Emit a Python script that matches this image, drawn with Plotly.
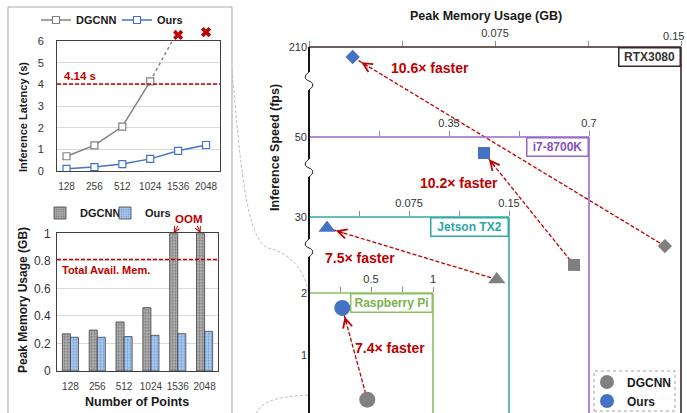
import plotly.graph_objects as go

W, H = 687, 413
FONT = "Liberation Sans, Arial, sans-serif"
RED = "#c00000"
GREY = "#808080"
BLUE = "#4472c4"

# ---------------- data ----------------
points = ["128", "256", "512", "1024", "1536", "2048"]
latency_dgcnn = [0.68, 1.18, 2.05, 4.14]          # 128 .. 1024
latency_dgcnn_trend = [4.14, 6.5]                 # dotted trend 1024 -> 1536 (runs off the top)
latency_ours = [0.10, 0.18, 0.32, 0.56, 0.93, 1.20]
oom_points = ["1536", "2048"]
oom_marks = [6.28, 6.41]
latency_limit = 4.02
latency_limit_label = "4.14 s"

mem_dgcnn = [0.27, 0.297, 0.356, 0.46, 1.0, 1.0]
mem_ours = [0.245, 0.245, 0.25, 0.259, 0.271, 0.288]
mem_total = 0.81

devices = ["RTX3080", "i7-8700K", "Jetson TX2", "Raspberry Pi"]
dev_mem_dgcnn = [0.1435, 0.6625, 0.1408, 0.470]
dev_mem_ours = [0.0176, 0.4375, 0.0135, 0.2685]
dev_fps_dgcnn = [18.9, 4.34, 3.375, 0.28]
dev_fps_ours = [200.4, 44.29, 25.31, 1.76]
speedup_labels = ["10.6× faster", "10.2× faster", "7.5× faster", "7.4× faster"]
dev_mem_ticks = [[0, 0.0375, 0.075, 0.1125, 0.15],
                 [0, 0.175, 0.35, 0.525, 0.7],
                 [0, 0.0375, 0.075, 0.1125, 0.15],
                 [0, 0.25, 0.5, 0.75, 1.0]]
dev_mem_ticktext = [["", "", "0.075", "", ""],      # RTX "0.15" drawn separately at the edge
                    ["", "", "0.35", "", "0.7"],
                    ["", "", "0.075", "", "0.15"],
                    ["", "", "0.5", "", "1"]]
rtx_edge_label = "0.15"
dev_fps_ticks = [[210], [50], [30], [1, 2]]

# ---------------- styles / layout ----------------
dev_mem_range = [[0, 0.15], [0, 0.7], [0, 0.15], [0, 1.0]]
dev_fps_range = [[-141.4, 210], [-48.5, 50], [-53.6, 30], [0.0645, 2]]
dev_right_px = [681, 589, 509, 433]
dev_top_px = [47, 137, 217, 293]
dev_line_color = ["#3d2828", "#9a66c8", "#33aaaa", "#8cc063"]
dev_text_color = ["#333333", "#8552bd", "#2ea6a4", "#79b24c"]
dev_label_width = [56, 56, 72, 76]
dev_symbol = ["diamond", "square", "triangle-up", "circle"]
dev_size = [11, 12, 15, 16]
arrow_frac = [0.07, 0.17, 0.14, 0.26]
arrow_standoff = [10, 8, 9, 9]
speed_text_px = [(430, 68), (459, 183), (360, 258), (390, 348)]
AXIS_X0 = 309
LAT_TOP_PX, LAT_BOT_PX = 41, 171
OOM_TOP_PX = 28


def PX(x):
    return x / W


def PY(y):
    return 1 - y / H


fig = go.Figure()

# ---- top-left: latency lines ----
fig.add_trace(go.Scatter(x=points, y=latency_ours, mode="lines+markers",
                         name="Ours", line=dict(color=BLUE, width=1.5),
                         marker=dict(symbol="square", size=7, color="white",
                                     line=dict(color=BLUE, width=1.2)),
                         xaxis="x", yaxis="y", legend="legend4"))
fig.add_trace(go.Scatter(x=points[3:5], y=latency_dgcnn_trend, mode="lines",
                         line=dict(color=GREY, width=1.5, dash="dot"),
                         showlegend=False, xaxis="x", yaxis="y", hoverinfo="skip"))
fig.add_trace(go.Scatter(x=points[:len(latency_dgcnn)], y=latency_dgcnn, mode="lines+markers",
                         name="DGCNN", line=dict(color=GREY, width=1.5),
                         marker=dict(symbol="square", size=7, color="white",
                                     line=dict(color=GREY, width=1.2)),
                         xaxis="x", yaxis="y", legend="legend"))
# OOM crosses sit just above the latency axis: same scale, axis extended upward
fig.add_trace(go.Scatter(x=oom_points, y=oom_marks, mode="markers",
                         marker=dict(symbol="x", size=9, color=RED),
                         cliponaxis=False, showlegend=False, xaxis="x", yaxis="y7"))

# ---- bottom-left: memory bars ----
fig.add_trace(go.Bar(x=points, y=mem_dgcnn, name="DGCNN", xaxis="x2", yaxis="y2",
                     legend="legend2", offsetgroup="a",
                     marker=dict(color="#b0b0b0", line=dict(color="#404040", width=0.8),
                                 pattern=dict(shape=".", fgcolor="#404040", size=3, solidity=0.35))))
fig.add_trace(go.Bar(x=points, y=mem_ours, name="Ours", xaxis="x2", yaxis="y2",
                     legend="legend5", offsetgroup="b",
                     marker=dict(color="#a9c8ee", line=dict(color="#404040", width=0.8),
                                 pattern=dict(shape=".", fgcolor="#3b6fc4", size=3, solidity=0.3))))

# ---- right: devices ----
for i in range(4):
    xa, ya = "x%d" % (i + 3), "y%d" % (i + 3)
    fig.add_trace(go.Scatter(x=[dev_mem_dgcnn[i], dev_mem_ours[i]],
                             y=[dev_fps_dgcnn[i], dev_fps_ours[i]], mode="lines",
                             line=dict(color=RED, width=1.3, dash="4px,2px"),
                             showlegend=False, xaxis=xa, yaxis=ya, hoverinfo="skip"))
    fig.add_trace(go.Scatter(x=[dev_mem_dgcnn[i]], y=[dev_fps_dgcnn[i]], mode="markers",
                             marker=dict(symbol=dev_symbol[i], size=dev_size[i], color=GREY),
                             cliponaxis=False, showlegend=False, xaxis=xa, yaxis=ya))
    fig.add_trace(go.Scatter(x=[dev_mem_ours[i]], y=[dev_fps_ours[i]], mode="markers",
                             marker=dict(symbol=dev_symbol[i], size=dev_size[i], color=BLUE),
                             cliponaxis=False, showlegend=False, xaxis=xa, yaxis=ya))

# legend entries for the right panel
fig.add_trace(go.Scatter(x=[None], y=[None], mode="markers", name="DGCNN",
                         marker=dict(symbol="circle", size=14, color=GREY),
                         xaxis="x3", yaxis="y3", legend="legend3"))
fig.add_trace(go.Scatter(x=[None], y=[None], mode="markers", name="Ours",
                         marker=dict(symbol="circle", size=14, color=BLUE),
                         xaxis="x3", yaxis="y3", legend="legend6"))

axes = {}
axes["xaxis"] = dict(domain=[PX(57), PX(220)], anchor="y", type="category",
                     categoryorder="array", categoryarray=points,
                     range=[-0.34, 5.5], showline=True, mirror=True, linecolor="#404040",
                     ticks="", showgrid=False, tickfont=dict(size=10, color="#404040"),
                     ticklabelstandoff=6, automargin=False)
axes["yaxis"] = dict(domain=[PY(LAT_BOT_PX), PY(LAT_TOP_PX)], anchor="x", range=[0, 6], dtick=1,
                     showline=True, mirror=True, linecolor="#404040", ticks="",
                     showgrid=True, gridcolor="#d9d9d9", zeroline=False,
                     tickfont=dict(size=11, color="#333333"), ticklabelstandoff=10,
                     automargin=False)
axes["yaxis7"] = dict(domain=[PY(LAT_BOT_PX), PY(OOM_TOP_PX)], anchor="x",
                      range=[0, 6 * (LAT_BOT_PX - OOM_TOP_PX) / (LAT_BOT_PX - LAT_TOP_PX)],
                      visible=False, automargin=False)
axes["xaxis2"] = dict(domain=[PX(57), PX(218)], anchor="y2", type="category",
                      categoryorder="array", categoryarray=points, range=[-0.5, 5.5],
                      showline=True, mirror=True, linecolor="#404040",
                      ticks="", showgrid=False, tickfont=dict(size=10, color="#404040"),
                      ticklabelstandoff=6, automargin=False)
axes["yaxis2"] = dict(domain=[PY(371), PY(233.3)], anchor="x2", range=[0, 1],
                      tickvals=[0, 0.2, 0.4, 0.6, 0.8, 1], ticktext=["0", "0.2", "0.4", "0.6", "0.8", "1"],
                      showline=True, mirror=True, linecolor="#404040", ticks="",
                      showgrid=True, gridcolor="#d9d9d9", zeroline=False,
                      tickfont=dict(size=12, color="#333333"), ticklabelstandoff=3,
                      automargin=False)
for i in range(4):
    n = i + 3
    axes["xaxis%d" % n] = dict(domain=[PX(AXIS_X0), PX(dev_right_px[i])], anchor="y%d" % n,
                               side="top", range=dev_mem_range[i], tickvals=dev_mem_ticks[i],
                               ticktext=dev_mem_ticktext[i], ticks="outside", ticklen=5,
                               tickcolor="#8c8c8c", showline=False, showgrid=False,
                               zeroline=False, tickfont=dict(size=11, color="#333333"),
                               automargin=False, ticklabeloverflow="allow")
    axes["yaxis%d" % n] = dict(domain=[0, PY(dev_top_px[i])], anchor="free",
                               position=PX(AXIS_X0),
                               range=dev_fps_range[i], tickvals=dev_fps_ticks[i],
                               ticks="", showline=False, showgrid=False, zeroline=False,
                               tickfont=dict(size=11, color="#333333"), ticklabelstandoff=2,
                               automargin=False)

shapes = []
# left panel frame
shapes.append(dict(type="rect", xref="paper", yref="paper", x0=PX(8), x1=PX(232),
                   y0=PY(420), y1=PY(7), line=dict(color="#a6a6a6", width=1), layer="below"))
# limit lines
shapes.append(dict(type="line", xref="x domain", yref="y", x0=0, x1=1, y0=latency_limit,
                   y1=latency_limit, line=dict(color=RED, width=1.5, dash="4px,2px")))
shapes.append(dict(type="line", xref="x2 domain", yref="y2", x0=0, x1=1, y0=mem_total,
                   y1=mem_total, line=dict(color=RED, width=1.5, dash="4px,2px")))
# device boxes
for i in range(4):
    n = i + 3
    shapes.append(dict(type="line", xref="x%d domain" % n, yref="y%d domain" % n,
                       x0=0, x1=1, y0=1, y1=1, line=dict(color=dev_line_color[i], width=1.6)))
    shapes.append(dict(type="line", xref="x%d domain" % n, yref="y%d domain" % n,
                       x0=1, x1=1, y0=0, y1=1, line=dict(color=dev_line_color[i], width=1.6)))

# broken vertical axis
breaks = [(72, 90), (159, 177), (239, 257)]
segs = [(47, breaks[0][0])] + [(breaks[k][1], breaks[k + 1][0]) for k in range(2)] + [(breaks[2][1], 415)]
for a, b in segs:
    shapes.append(dict(type="line", xref="paper", yref="paper", x0=PX(AXIS_X0), x1=PX(AXIS_X0),
                       y0=PY(a), y1=PY(b), line=dict(color="#141414", width=2)))


def path(cmds):
    out = []
    for c in cmds:
        if isinstance(c, str):
            out.append(c)
        else:
            out.append("%.5f,%.5f" % (PX(c[0]), PY(c[1])))
    return " ".join(out)


for a, b in breaks:
    h = b - a
    shapes.append(dict(type="path", xref="paper", yref="paper",
                       path=path(["M", (AXIS_X0, a), "C", (AXIS_X0 - 5, a + h * 0.2),
                                  (AXIS_X0 - 5, a + h * 0.4), (AXIS_X0, a + h * 0.5),
                                  "C", (AXIS_X0 + 5, a + h * 0.6), (AXIS_X0 + 5, a + h * 0.8),
                                  (AXIS_X0, b)]),
                       line=dict(color="#141414", width=1)))

# zoom connector curves
shapes.append(dict(type="path", xref="paper", yref="paper",
                   path=path(["M", (232, 70), "C", (240, 160), (246, 240), (268, 248),
                              "C", (292, 254), (305, 270), (309, 296)]),
                   line=dict(color="#bdbdbd", width=1, dash="3px,2px"), layer="below"))
shapes.append(dict(type="path", xref="paper", yref="paper",
                   path=path(["M", (256, 414), "C", (262, 402), (272, 397), (309, 395)]),
                   line=dict(color="#bdbdbd", width=1, dash="3px,2px"), layer="below"))
# right legend frame
shapes.append(dict(type="rect", xref="paper", yref="paper", x0=PX(594), x1=PX(675),
                   y0=PY(411), y1=PY(371), line=dict(color="#a0a0a0", width=1, dash="dot")))

ann = []


def txt(x, y, text, size=12, color="#1a1a1a", angle=0, xanchor="center", bold=True):
    ann.append(dict(xref="paper", yref="paper", x=PX(x), y=PY(y), text=("<b>%s</b>" % text) if bold else text,
                    showarrow=False, textangle=angle, xanchor=xanchor, yanchor="middle",
                    font=dict(size=size, color=color, family=FONT)))


txt(23, 117, "Inference Latency (s)", size=11, angle=-90)
txt(23, 300, "Peak Memory Usage (GB)", size=12, angle=-90)
txt(137, 402, "Number of Points", size=12.5)
txt(486, 16, "Peak Memory Usage (GB)", size=12.5)
txt(275, 148, "Inference Speed (fps)", size=12.5, angle=-90)
txt(62, 76, latency_limit_label, size=11.5, color=RED, xanchor="left")
txt(60, 270, "Total Avail. Mem.", size=11, color=RED, xanchor="left")
txt(188, 219, "OOM", size=11.5, color=RED)
txt(686, 36, rtx_edge_label, size=11, color="#333333", xanchor="right", bold=False)
for k, dx in [(4, 5), (5, -4)]:
    ann.append(dict(xref="x2", yref="y2", x=k - 0.15, y=1.0, text="", showarrow=True,
                    ax=dx, ay=-9, arrowhead=5, arrowsize=1.1, arrowwidth=1, arrowcolor=RED))

for i in range(4):
    n = i + 3
    ann.append(dict(xref="x%d domain" % n, yref="y%d domain" % n, x=1, y=1,
                    xanchor="right", yanchor="top", showarrow=False,
                    text="<b>%s</b>" % devices[i], width=dev_label_width[i], height=13,
                    bgcolor="white", bordercolor=dev_line_color[i], borderwidth=1.5, borderpad=2,
                    font=dict(size=12, color=dev_text_color[i], family=FONT)))
    txt(speed_text_px[i][0], speed_text_px[i][1], speedup_labels[i], size=14, color=RED)
    f = arrow_frac[i]
    ann.append(dict(xref="x%d" % n, yref="y%d" % n, x=dev_mem_ours[i], y=dev_fps_ours[i],
                    axref="x%d" % n, ayref="y%d" % n,
                    ax=dev_mem_ours[i] + f * (dev_mem_dgcnn[i] - dev_mem_ours[i]),
                    ay=dev_fps_ours[i] + f * (dev_fps_dgcnn[i] - dev_fps_ours[i]),
                    text="", showarrow=True, arrowhead=5, arrowsize=1.4, arrowwidth=1.3,
                    arrowcolor=RED, standoff=arrow_standoff[i], startstandoff=6))


def one_legend(x, y, size):
    return dict(orientation="v", x=PX(x), y=PY(y), xanchor="left", yanchor="middle",
                bgcolor="rgba(0,0,0,0)", itemwidth=30, borderwidth=0,
                font=dict(size=size, color="#1a1a1a", family=FONT, weight="bold"))


fig.update_layout(
    width=W, height=H, margin=dict(l=0, r=0, t=0, b=0, autoexpand=False),
    paper_bgcolor="white", plot_bgcolor="rgba(0,0,0,0)",
    font=dict(family=FONT, color="#333333"),
    barmode="group", bargap=0.4, bargroupgap=0,
    shapes=shapes, annotations=ann,
    legend=one_legend(36, 20, 11),
    legend4=one_legend(117, 20, 11),
    legend2=one_legend(40, 213, 11),
    legend5=one_legend(105, 213, 11),
    legend3=one_legend(587, 382, 12),
    legend6=one_legend(587, 401, 12),
    **axes,
)

fig.write_html("out.html", config={"displayModeBar": False},
               post_script="document.body.style.margin='0';document.body.style.overflow='hidden';"
                           "document.documentElement.style.overflow='hidden';")
